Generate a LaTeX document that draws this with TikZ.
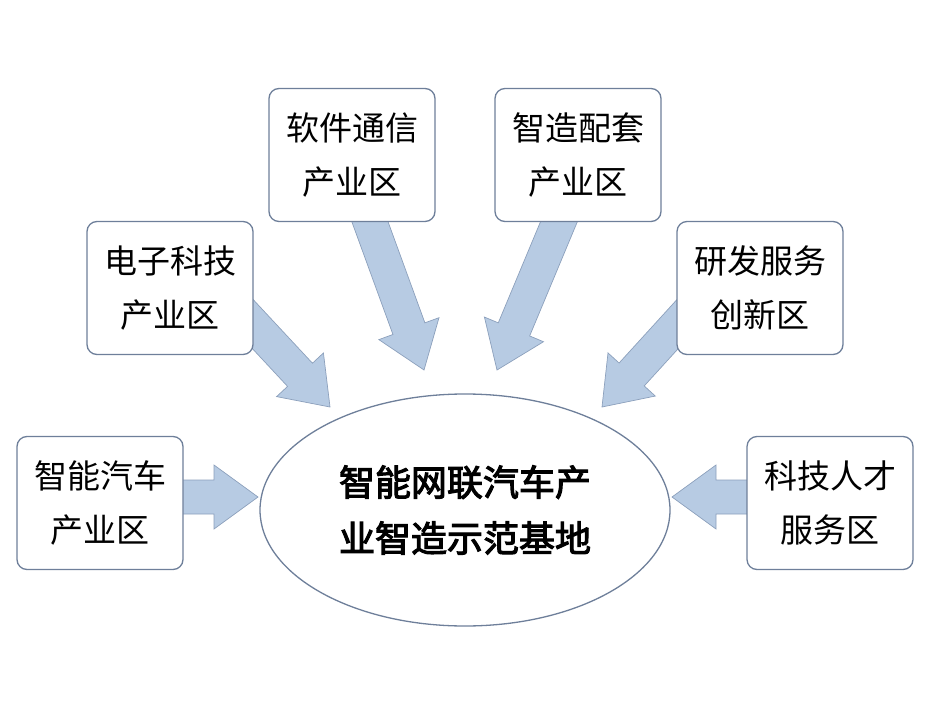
\documentclass[tikz,border=0pt]{standalone}
\usepackage{fontspec}
\newfontfamily\cjk[AutoFakeBold=3]{Noto Sans CJK SC}
\usetikzlibrary{shapes.geometric,calc}
\definecolor{edge}{HTML}{6E7F9A}
\definecolor{afill}{HTML}{B7CBE3}
\definecolor{aedge}{HTML}{8CA0BC}
\begin{document}
\begin{tikzpicture}[x=1pt,y=-1pt,
  box/.style={draw=edge,line width=1.3pt,rounded corners=10pt,fill=white,minimum width=166pt,minimum height=133pt,align=center,font=\cjk\fontsize{33}{54}\selectfont},
  barrow/.style={fill=afill,draw=aedge,line width=0.7pt,line join=miter}]
\useasboundingbox (0,0) rectangle (931,714);
\newcommand\blk[2]{%
  \coordinate (hh) at ($(#2)!44pt!(#1)$);
  \draw[barrow] ($(#1)!17pt!90:(#2)$) -- ($(hh)!17pt!90:(#2)$) -- ($(hh)!32pt!90:(#2)$) -- (#2)
    -- ($(hh)!32pt!-90:(#2)$) -- ($(hh)!17pt!-90:(#2)$) -- ($(#1)!17pt!-90:(#2)$) -- cycle;}
\coordinate (a1) at (175,497); \coordinate (b1) at (258,497);
\coordinate (a2) at (235,305); \coordinate (b2) at (330,407);
\coordinate (a3) at (362,200); \coordinate (b3) at (424,370);
\coordinate (a4) at (568,200); \coordinate (b4) at (497,370);
\coordinate (a5) at (695,305); \coordinate (b5) at (602,407);
\coordinate (a6) at (755,497); \coordinate (b6) at (672,497);
\blk{a1}{b1}\blk{a2}{b2}\blk{a3}{b3}\blk{a4}{b4}\blk{a5}{b5}\blk{a6}{b6}
\node[box] (n1) at (100,503) {智能汽车\\产业区};
\node[box] (n2) at (170,288) {电子科技\\产业区};
\node[box] (n3) at (352,155) {软件通信\\产业区};
\node[box] (n4) at (578,155) {智造配套\\产业区};
\node[box] (n5) at (760,288) {研发服务\\创新区};
\node[box] (n6) at (830,503) {科技人才\\服务区};
\node[ellipse,draw=edge,line width=1.3pt,fill=white,minimum width=410pt,minimum height=232pt,align=center,font=\cjk\bfseries\fontsize{36}{56}\selectfont] (c) at (465,510) {智能网联汽车产\\业智造示范基地};
\end{tikzpicture}
\end{document}
